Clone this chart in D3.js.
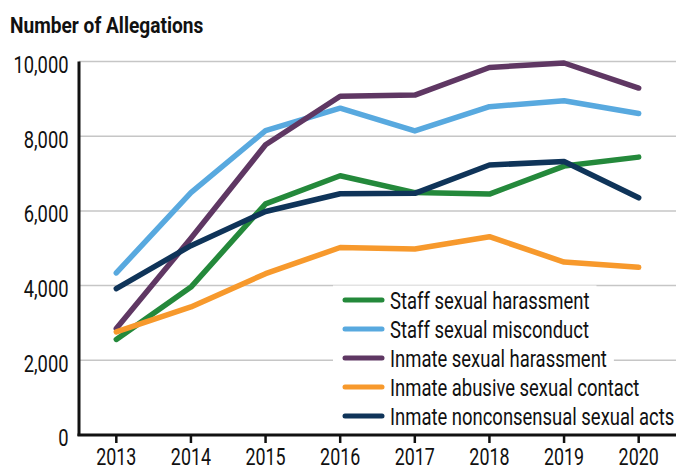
<!DOCTYPE html>
<html>
<head>
<meta charset="utf-8">
<script src="https://cdn.jsdelivr.net/npm/d3@7"></script>
<style>
  body { margin: 0; background: #fff; }
  svg text { font-family: "Roboto", "Liberation Sans", sans-serif; fill: #111; }
</style>
</head>
<body>
<svg id="chart" width="676" height="466"></svg>
<script>
var years = [2013, 2014, 2015, 2016, 2017, 2018, 2019, 2020];
var y_ticks = [0, 2000, 4000, 6000, 8000, 10000];

var series_names = [
    "Staff sexual harassment",
    "Staff sexual misconduct",
    "Inmate sexual harassment",
    "Inmate abusive sexual contact",
    "Inmate nonconsensual sexual acts"
];
var series_colors = ["#24893b", "#58a9df", "#5f3763", "#f7992c", "#0f3459"];

var staff_harassment = [2560, 3960, 6190, 6940, 6490, 6450, 7200, 7440];
var staff_misconduct = [4340, 6490, 8150, 8750, 8140, 8790, 8950, 8610];
var inmate_harassment = [2850, 5270, 7770, 9070, 9100, 9840, 9960, 9290];
var inmate_abusive = [2760, 3430, 4320, 5020, 4980, 5310, 4630, 4490];
var inmate_nonconsensual = [3920, 5070, 5985, 6460, 6470, 7230, 7320, 6350];

var series_values = [staff_harassment, staff_misconduct, inmate_harassment, inmate_abusive, inmate_nonconsensual];

var margin = {left: 79, top: 61.5, right: 0, bottom: 31};
var width = 676 - margin.left - margin.right;
var height = 466 - margin.top - margin.bottom;

var chart = d3.select("#chart");

// squeeze text horizontally, the original uses a condensed face
function condense(sel, k) {
    sel.each(function() {
        var w = this.getComputedTextLength();
        d3.select(this)
            .attr("textLength", w * k)
            .attr("lengthAdjust", "spacingAndGlyphs");
    });
}

var xs = d3.scalePoint()
    .domain(years)
    .range([0, width])
    .padding(0.5);

var ys = d3.scaleLinear()
    .domain([0, 10000])
    .range([height, 0]);

var g = chart.append("g")
    .attr("transform", "translate(" + margin.left + "," + margin.top + ")");

// gridlines
g.append("g")
    .selectAll("line")
    .data(y_ticks.filter(d => d > 0))
    .enter()
    .append("line")
        .attr("x1", 0)
        .attr("x2", width)
        .attr("y1", d => ys(d))
        .attr("y2", d => ys(d))
        .attr("stroke", "#c6c6c6")
        .attr("stroke-width", 1.5);

// y tick labels
g.append("g")
    .selectAll("text")
    .data(y_ticks)
    .enter()
    .append("text")
        .attr("x", -10.5)
        .attr("y", d => ys(d) + 3)
        .attr("dy", "0.36em")
        .attr("text-anchor", "end")
        .style("font-size", "23.5px")
        .text(d => d3.format(",")(d))
        .call(condense, 0.78);

// series lines
var line = d3.line()
    .x((d, i) => xs(years[i]))
    .y(d => ys(d));

g.append("g")
    .selectAll("path")
    .data(series_values)
    .enter()
    .append("path")
        .attr("fill", "none")
        .attr("stroke", (d, i) => series_colors[i])
        .attr("stroke-width", 5.5)
        .attr("stroke-linejoin", "round")
        .attr("stroke-linecap", "round")
        .attr("d", line);

// legend
var legend_x = 266;
var legend_y = 238.5;
var row_h = 29;
var legend = g.append("g")
    .attr("transform", "translate(" + legend_x + "," + legend_y + ")");

var rows = legend.selectAll("g")
    .data(series_names)
    .enter()
    .append("g")
        .attr("transform", (d, i) => "translate(0," + (i * row_h) + ")");

rows.append("rect")
    .attr("class", "bg")
    .attr("x", -12)
    .attr("y", -row_h / 2)
    .attr("height", row_h)
    .attr("fill", "#fff");

rows.append("line")
    .attr("x1", 0)
    .attr("x2", 37)
    .attr("y1", 0)
    .attr("y2", 0)
    .attr("stroke", (d, i) => series_colors[i])
    .attr("stroke-width", 5)
    .attr("stroke-linecap", "round");

rows.append("text")
    .attr("x", 45)
    .attr("y", 1)
    .attr("dy", "0.36em")
    .style("font-size", "23.5px")
    .text(d => d)
    .call(condense, 0.785);

rows.each(function() {
    var row = d3.select(this);
    var w = +row.select("text").attr("textLength");
    row.select("rect.bg").attr("width", 45 + w + 19);
});

// axes
g.append("line")
    .attr("x1", 0).attr("x2", 0)
    .attr("y1", 0).attr("y2", height + 1)
    .attr("stroke", "#111")
    .attr("stroke-width", 3);

g.append("line")
    .attr("x1", -1.5).attr("x2", width)
    .attr("y1", height).attr("y2", height)
    .attr("stroke", "#111")
    .attr("stroke-width", 3);

var x_axis = g.append("g")
    .selectAll("g")
    .data(years)
    .enter()
    .append("g")
        .attr("transform", d => "translate(" + xs(d) + "," + height + ")");

x_axis.append("line")
    .attr("y1", 0)
    .attr("y2", 8)
    .attr("stroke", "#111")
    .attr("stroke-width", 2.5);

x_axis.append("text")
    .attr("y", 30)
    .attr("text-anchor", "middle")
    .style("font-size", "23.5px")
    .text(d => d)
    .call(condense, 0.76);

// title
chart.append("text")
    .attr("x", 10)
    .attr("y", 33)
    .style("font-size", "22.5px")
    .style("font-weight", "bold")
    .text("Number of Allegations")
    .call(condense, 0.85);
</script>
</body>
</html>
